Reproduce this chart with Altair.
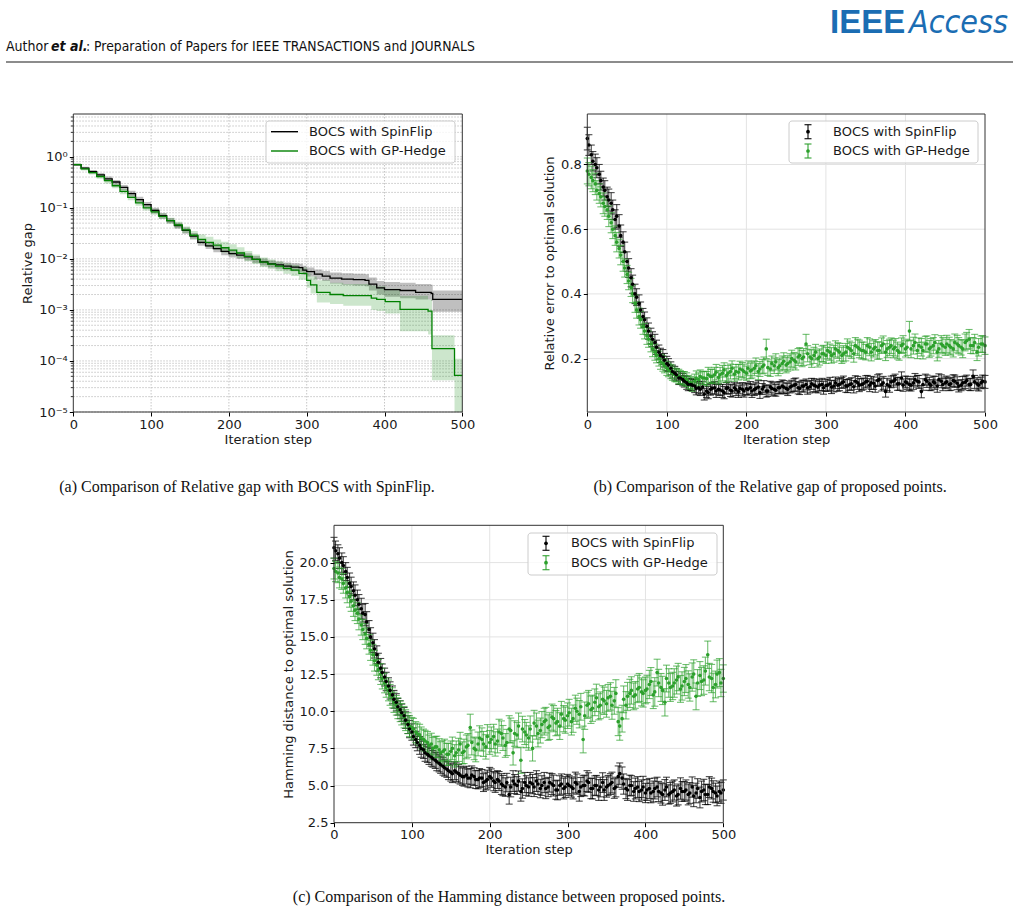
import altair as alt
import pandas as pd

# ---------------- Panel (a): relative gap, step curves with bands ----------------
a_spin_step = [0, 10, 20, 30, 40, 50, 60, 70, 80, 90, 100, 110, 120, 130, 140, 150, 160, 170, 180, 190,
               200, 210, 220, 230, 240, 250, 260, 270, 280, 290, 295, 300, 310, 320, 330, 345, 360, 375,
               380, 390, 400, 420, 440, 460, 462, 500]
a_spin_val = [0.70, 0.60, 0.51, 0.44, 0.37, 0.32, 0.25, 0.19, 0.145, 0.115,
              0.089, 0.070, 0.056, 0.045, 0.036, 0.028, 0.021, 0.018, 0.0158, 0.0140,
              0.0126, 0.0118, 0.0110, 0.0098, 0.0087, 0.0080, 0.0076, 0.0072, 0.0069, 0.0067,
              0.0060, 0.0056, 0.0050, 0.0046, 0.0042, 0.0040, 0.0039, 0.0038, 0.0032, 0.0027,
              0.0025, 0.0024, 0.0022, 0.0021, 0.0016, 0.0016]
a_spin_lo = [0.66, 0.56, 0.47, 0.40, 0.33, 0.28, 0.22, 0.165, 0.125, 0.10,
             0.077, 0.061, 0.049, 0.039, 0.031, 0.024, 0.018, 0.0155, 0.0135, 0.0118,
             0.0106, 0.0099, 0.0093, 0.0083, 0.0074, 0.0068, 0.0064, 0.0060, 0.0057, 0.0055,
             0.0049, 0.0045, 0.0040, 0.0037, 0.0033, 0.0031, 0.0030, 0.0029, 0.0024, 0.0020,
             0.0018, 0.0017, 0.0016, 0.0015, 0.00092, 0.00092]
a_spin_hi = [0.74, 0.64, 0.55, 0.48, 0.41, 0.35, 0.28, 0.215, 0.165, 0.13,
             0.10, 0.079, 0.063, 0.051, 0.041, 0.032, 0.024, 0.021, 0.0185, 0.0165,
             0.0148, 0.0138, 0.0128, 0.0114, 0.0101, 0.0093, 0.0089, 0.0085, 0.0082, 0.0080,
             0.0073, 0.0068, 0.0062, 0.0058, 0.0054, 0.0052, 0.0051, 0.0050, 0.0043, 0.0037,
             0.0035, 0.0034, 0.0032, 0.0031, 0.0024, 0.0024]

a_hedge_step = [0, 10, 20, 30, 40, 50, 60, 70, 80, 90, 100, 110, 120, 130, 140, 150, 160, 170, 180, 190,
                200, 210, 220, 230, 240, 250, 260, 270, 280, 290, 300, 305, 313, 330, 347, 383, 390, 401,
                420, 456, 461, 490, 500]
a_hedge_val = [0.70, 0.58, 0.49, 0.41, 0.34, 0.27, 0.21, 0.16, 0.125, 0.10,
               0.083, 0.068, 0.056, 0.046, 0.037, 0.029, 0.024, 0.021, 0.0185, 0.0165,
               0.0148, 0.0130, 0.0112, 0.0098, 0.0086, 0.0079, 0.0072, 0.0065, 0.0060, 0.0052,
               0.0038, 0.0031, 0.0022, 0.0020, 0.0019, 0.0017, 0.0016, 0.00145, 0.00102, 0.00095,
               0.000175, 0.000052, 0.000052]
a_hedge_lo = [0.66, 0.54, 0.45, 0.37, 0.30, 0.24, 0.185, 0.14, 0.11, 0.088,
              0.073, 0.060, 0.049, 0.040, 0.032, 0.025, 0.020, 0.017, 0.015, 0.0133,
              0.0118, 0.0104, 0.0090, 0.0079, 0.0069, 0.0063, 0.0057, 0.0051, 0.0046, 0.0039,
              0.0027, 0.0021, 0.0014, 0.0013, 0.0012, 0.0010, 0.00095, 0.00085, 0.00038, 0.00033,
              0.000042, 0.0000001, 0.0000001]
a_hedge_hi = [0.74, 0.62, 0.53, 0.45, 0.38, 0.30, 0.235, 0.18, 0.14, 0.113,
              0.094, 0.077, 0.064, 0.053, 0.043, 0.035, 0.030, 0.027, 0.024, 0.0215,
              0.0192, 0.0168, 0.0142, 0.0122, 0.0106, 0.0097, 0.0089, 0.0081, 0.0076, 0.0068,
              0.0052, 0.0045, 0.0038, 0.0034, 0.0032, 0.0030, 0.0029, 0.0026, 0.0019, 0.0016,
              0.00032, 0.00011, 0.00011]

# ---------------- Panels (b) and (c): proposed points ----------------
steps_a = list(range(0, 505, 5))   # 0, 5, ..., 500
steps_b = list(range(2, 500, 5))   # 2, 7, ..., 497

b_spin = [0.88, 0.83, 0.80, 0.77, 0.73, 0.70, 0.68, 0.63, 0.61, 0.56, 0.50,
          0.45, 0.40, 0.37, 0.33, 0.30, 0.27, 0.25, 0.22, 0.205, 0.185,
          0.17, 0.155, 0.14, 0.135, 0.125, 0.12, 0.115, 0.11, 0.112, 0.10,
          0.105, 0.11, 0.105, 0.10, 0.108, 0.102, 0.11, 0.098, 0.105, 0.107,
          0.11, 0.104, 0.112, 0.106, 0.10, 0.112, 0.105, 0.11, 0.115, 0.108,
          0.112, 0.118, 0.11, 0.115, 0.12, 0.113, 0.118, 0.112, 0.12, 0.117,
          0.122, 0.115, 0.118, 0.125, 0.116, 0.12, 0.113, 0.125, 0.12, 0.128,
          0.118, 0.124, 0.132, 0.12, 0.098, 0.115, 0.13, 0.122, 0.14, 0.128,
          0.12, 0.125, 0.13, 0.098, 0.135, 0.122, 0.128, 0.115, 0.13, 0.125,
          0.12, 0.132, 0.124, 0.118, 0.127, 0.12, 0.145, 0.122, 0.125, 0.128]
b_spin_err = [0.035, 0.03, 0.032, 0.03, 0.028, 0.03, 0.033, 0.03, 0.035, 0.032, 0.03,
              0.028, 0.03, 0.027, 0.025, 0.026, 0.024, 0.025, 0.022, 0.023, 0.022,
              0.02, 0.021, 0.02, 0.019, 0.02, 0.018, 0.02, 0.019, 0.018, 0.02,
              0.018, 0.019, 0.017, 0.02, 0.018, 0.019, 0.017, 0.018, 0.02, 0.018,
              0.019, 0.018, 0.02, 0.017, 0.019, 0.018, 0.02, 0.018, 0.019, 0.017,
              0.018, 0.02, 0.019, 0.018, 0.017, 0.019, 0.02, 0.018, 0.019, 0.018,
              0.02, 0.018, 0.019, 0.017, 0.02, 0.018, 0.019, 0.02, 0.018, 0.019,
              0.02, 0.019, 0.018, 0.02, 0.017, 0.019, 0.018, 0.02, 0.019, 0.018,
              0.019, 0.02, 0.018, 0.019, 0.017, 0.02, 0.018, 0.019, 0.02, 0.018,
              0.019, 0.018, 0.02, 0.017, 0.019, 0.018, 0.02, 0.019, 0.018, 0.02]
b_spin_mid = [0.86, 0.81, 0.79, 0.75, 0.72, 0.69, 0.66, 0.64, 0.58, 0.53,
              0.48, 0.43, 0.39, 0.35, 0.32, 0.285, 0.26, 0.235, 0.21, 0.195,
              0.18, 0.16, 0.15, 0.14, 0.13, 0.12, 0.118, 0.108, 0.105, 0.09,
              0.095, 0.108, 0.10, 0.103, 0.095, 0.11, 0.10, 0.104, 0.108, 0.10,
              0.105, 0.10, 0.108, 0.095, 0.113, 0.10, 0.108, 0.102, 0.11, 0.112,
              0.105, 0.115, 0.12, 0.108, 0.115, 0.11, 0.122, 0.115, 0.118, 0.11,
              0.118, 0.112, 0.125, 0.12, 0.128, 0.115, 0.122, 0.13, 0.118, 0.122,
              0.13, 0.125, 0.115, 0.135, 0.125, 0.12, 0.128, 0.135, 0.122, 0.118,
              0.125, 0.118, 0.135, 0.128, 0.12, 0.13, 0.118, 0.125, 0.135, 0.12,
              0.128, 0.122, 0.13, 0.115, 0.125, 0.132, 0.12, 0.128, 0.118, 0.13]
b_spin_mid_err = [0.032, 0.03, 0.031, 0.029, 0.03, 0.034, 0.03, 0.036, 0.033, 0.03,
                  0.029, 0.028, 0.026, 0.025, 0.024, 0.025, 0.023, 0.022, 0.022, 0.021,
                  0.02, 0.02, 0.019, 0.019, 0.018, 0.019, 0.018, 0.02, 0.019, 0.018,
                  0.019, 0.018, 0.02, 0.017, 0.019, 0.018, 0.019, 0.018, 0.017, 0.019,
                  0.018, 0.02, 0.019, 0.018, 0.019, 0.017, 0.02, 0.018, 0.019, 0.02,
                  0.019, 0.018, 0.02, 0.019, 0.018, 0.02, 0.017, 0.019, 0.018, 0.02,
                  0.019, 0.02, 0.018, 0.019, 0.018, 0.02, 0.019, 0.017, 0.02, 0.018,
                  0.018, 0.02, 0.019, 0.018, 0.02, 0.019, 0.018, 0.017, 0.02, 0.019,
                  0.02, 0.018, 0.019, 0.02, 0.018, 0.019, 0.017, 0.02, 0.018, 0.019,
                  0.018, 0.02, 0.019, 0.018, 0.02, 0.017, 0.019, 0.02, 0.018, 0.019]
b_hedge = [0.78, 0.76, 0.74, 0.71, 0.68, 0.66, 0.62, 0.58, 0.54, 0.50, 0.46,
           0.42, 0.37, 0.33, 0.30, 0.27, 0.245, 0.22, 0.20, 0.185, 0.17,
           0.16, 0.15, 0.145, 0.14, 0.135, 0.125, 0.13, 0.135, 0.14, 0.138,
           0.145, 0.15, 0.142, 0.155, 0.148, 0.16, 0.152, 0.158, 0.165, 0.155,
           0.162, 0.17, 0.16, 0.175, 0.23, 0.168, 0.178, 0.172, 0.185, 0.18,
           0.19, 0.195, 0.205, 0.20, 0.245, 0.205, 0.21, 0.20, 0.215, 0.21,
           0.22, 0.215, 0.225, 0.21, 0.22, 0.23, 0.215, 0.235, 0.225, 0.22,
           0.235, 0.23, 0.225, 0.24, 0.22, 0.235, 0.23, 0.225, 0.24, 0.23,
           0.285, 0.24, 0.225, 0.235, 0.245, 0.23, 0.24, 0.22, 0.245, 0.235,
           0.24, 0.23, 0.245, 0.235, 0.25, 0.26, 0.24, 0.22, 0.245, 0.24]
b_hedge_err = [0.04, 0.035, 0.033, 0.03, 0.032, 0.03, 0.031, 0.03, 0.029, 0.03, 0.028,
               0.028, 0.027, 0.026, 0.025, 0.026, 0.024, 0.025, 0.023, 0.024, 0.022,
               0.022, 0.021, 0.022, 0.02, 0.021, 0.02, 0.022, 0.021, 0.02, 0.022,
               0.022, 0.023, 0.021, 0.024, 0.022, 0.023, 0.022, 0.024, 0.023, 0.022,
               0.024, 0.023, 0.025, 0.022, 0.03, 0.023, 0.024, 0.025, 0.023, 0.024,
               0.025, 0.024, 0.026, 0.025, 0.03, 0.024, 0.025, 0.026, 0.024, 0.025,
               0.025, 0.026, 0.024, 0.025, 0.027, 0.024, 0.026, 0.025, 0.026, 0.024,
               0.026, 0.025, 0.027, 0.024, 0.026, 0.025, 0.027, 0.026, 0.024, 0.025,
               0.03, 0.026, 0.025, 0.027, 0.024, 0.026, 0.025, 0.027, 0.026, 0.025,
               0.026, 0.025, 0.027, 0.024, 0.026, 0.03, 0.025, 0.026, 0.025, 0.027]
b_hedge_mid = [0.77, 0.75, 0.72, 0.70, 0.67, 0.64, 0.60, 0.56, 0.52, 0.48,
               0.44, 0.40, 0.35, 0.32, 0.285, 0.26, 0.23, 0.21, 0.19, 0.178,
               0.165, 0.155, 0.148, 0.142, 0.138, 0.128, 0.12, 0.14, 0.145, 0.14,
               0.15, 0.145, 0.158, 0.15, 0.165, 0.155, 0.17, 0.16, 0.168, 0.16,
               0.17, 0.165, 0.178, 0.168, 0.18, 0.172, 0.185, 0.19, 0.178, 0.192,
               0.185, 0.20, 0.19, 0.21, 0.205, 0.215, 0.20, 0.22, 0.205, 0.215,
               0.225, 0.21, 0.23, 0.22, 0.215, 0.235, 0.225, 0.24, 0.23, 0.225,
               0.24, 0.22, 0.235, 0.225, 0.245, 0.23, 0.24, 0.235, 0.22, 0.245,
               0.235, 0.23, 0.25, 0.24, 0.225, 0.245, 0.235, 0.25, 0.23, 0.24,
               0.245, 0.235, 0.25, 0.24, 0.23, 0.255, 0.24, 0.25, 0.235, 0.245]
b_hedge_mid_err = [0.036, 0.034, 0.03, 0.031, 0.03, 0.032, 0.029, 0.03, 0.03, 0.028,
                   0.027, 0.027, 0.025, 0.026, 0.024, 0.025, 0.024, 0.023, 0.023, 0.022,
                   0.021, 0.022, 0.02, 0.021, 0.022, 0.02, 0.021, 0.022, 0.02, 0.021,
                   0.023, 0.022, 0.024, 0.023, 0.022, 0.024, 0.023, 0.022, 0.024, 0.023,
                   0.023, 0.025, 0.024, 0.023, 0.025, 0.024, 0.023, 0.025, 0.024, 0.026,
                   0.024, 0.026, 0.025, 0.024, 0.026, 0.025, 0.027, 0.024, 0.025, 0.026,
                   0.026, 0.024, 0.025, 0.027, 0.025, 0.026, 0.024, 0.025, 0.027, 0.026,
                   0.025, 0.027, 0.024, 0.026, 0.025, 0.026, 0.024, 0.027, 0.025, 0.026,
                   0.025, 0.027, 0.026, 0.024, 0.026, 0.025, 0.027, 0.024, 0.026, 0.025,
                   0.027, 0.024, 0.026, 0.025, 0.027, 0.026, 0.024, 0.025, 0.027, 0.026]

c_spin = [21.0, 20.6, 20.0, 19.4, 18.6, 18.1, 17.5, 16.9, 16.5, 15.5, 14.6,
          13.8, 12.9, 12.3, 11.7, 11.1, 10.6, 10.1, 9.7, 9.1, 8.6,
          8.1, 7.7, 7.4, 7.1, 6.9, 6.7, 6.5, 6.3, 6.1, 5.9,
          6.0, 5.8, 5.6, 5.7, 5.5, 5.6, 5.4, 5.5, 5.3, 5.6,
          5.3, 5.4, 5.1, 4.9, 4.4, 5.3, 5.0, 4.6, 5.2, 4.9,
          5.1, 5.3, 4.8, 5.2, 4.9, 5.1, 4.7, 5.0, 4.8, 5.1,
          4.9, 5.2, 4.6, 5.0, 5.3, 4.8, 5.0, 4.7, 5.2, 4.9,
          5.1, 4.8, 5.6, 5.5, 4.8, 5.0, 4.6, 4.9, 4.7, 4.5,
          4.8, 4.6, 4.9, 4.5, 4.7, 4.4, 4.6, 4.3, 4.8, 4.6,
          4.4, 4.9, 4.5, 4.2, 4.7, 4.4, 4.8, 4.5, 4.6, 4.7]
c_spin_err = [0.7, 0.6, 0.65, 0.6, 0.7, 0.6, 0.65, 0.7, 0.75, 0.6, 0.65,
              0.6, 0.65, 0.6, 0.55, 0.6, 0.58, 0.6, 0.55, 0.6, 0.55,
              0.55, 0.6, 0.58, 0.55, 0.6, 0.55, 0.58, 0.6, 0.55, 0.6,
              0.6, 0.62, 0.58, 0.6, 0.65, 0.6, 0.62, 0.58, 0.6, 0.62,
              0.65, 0.6, 0.7, 0.62, 0.65, 0.7, 0.6, 0.65, 0.68, 0.62,
              0.65, 0.7, 0.62, 0.68, 0.65, 0.7, 0.62, 0.66, 0.7, 0.65,
              0.68, 0.7, 0.65, 0.66, 0.7, 0.68, 0.65, 0.7, 0.66, 0.68,
              0.7, 0.66, 0.72, 0.75, 0.68, 0.7, 0.66, 0.7, 0.68, 0.65,
              0.68, 0.7, 0.66, 0.68, 0.7, 0.65, 0.7, 0.68, 0.72, 0.66,
              0.7, 0.68, 0.66, 0.7, 0.72, 0.68, 0.7, 0.66, 0.7, 0.68]
c_spin_mid = [20.8, 20.3, 19.8, 19.0, 18.4, 17.8, 17.2, 16.6, 16.0, 15.0,
              14.2, 13.3, 12.6, 12.0, 11.4, 10.8, 10.3, 9.9, 9.4, 8.8,
              8.3, 7.9, 7.5, 7.2, 7.0, 6.8, 6.6, 6.4, 6.2, 6.0,
              5.8, 5.9, 5.7, 5.6, 5.5, 5.7, 5.4, 5.5, 5.2, 5.4,
              5.5, 5.2, 5.3, 5.0, 5.2, 4.9, 5.1, 5.3, 4.8, 5.0,
              5.2, 4.9, 5.1, 5.0, 4.8, 5.2, 5.0, 4.7, 5.1, 4.9,
              5.0, 4.8, 5.1, 4.9, 5.0, 5.2, 4.8, 5.0, 4.9, 4.7,
              5.0, 5.2, 4.9, 5.8, 5.1, 4.7, 5.0, 4.8, 4.6, 4.9,
              4.7, 4.5, 4.8, 4.6, 4.4, 4.9, 4.5, 4.7, 4.4, 4.6,
              4.7, 4.5, 4.3, 4.8, 4.6, 4.4, 4.9, 4.6, 4.3, 4.5]
c_spin_mid_err = [0.65, 0.7, 0.6, 0.68, 0.62, 0.7, 0.65, 0.6, 0.7, 0.62,
                  0.62, 0.6, 0.58, 0.62, 0.58, 0.6, 0.56, 0.58, 0.56, 0.58,
                  0.58, 0.56, 0.6, 0.57, 0.58, 0.56, 0.6, 0.58, 0.57, 0.6,
                  0.6, 0.62, 0.6, 0.64, 0.6, 0.62, 0.6, 0.64, 0.6, 0.63,
                  0.62, 0.66, 0.64, 0.68, 0.62, 0.66, 0.64, 0.68, 0.65, 0.66,
                  0.68, 0.64, 0.7, 0.66, 0.68, 0.64, 0.7, 0.66, 0.68, 0.7,
                  0.66, 0.7, 0.68, 0.64, 0.7, 0.66, 0.7, 0.68, 0.66, 0.7,
                  0.68, 0.7, 0.66, 0.72, 0.68, 0.7, 0.66, 0.7, 0.68, 0.72,
                  0.7, 0.66, 0.7, 0.68, 0.72, 0.66, 0.7, 0.68, 0.7, 0.66,
                  0.68, 0.7, 0.72, 0.66, 0.7, 0.68, 0.7, 0.72, 0.66, 0.7]
c_hedge = [19.6, 19.3, 18.9, 18.3, 17.7, 17.1, 16.6, 15.8, 15.2, 14.5, 13.8,
           13.1, 12.5, 11.9, 11.4, 10.9, 10.4, 10.0, 9.6, 9.2, 8.9,
           8.6, 8.4, 8.1, 7.9, 7.8, 7.6, 7.4, 7.3, 7.1, 7.3,
           7.0, 7.4, 7.2, 7.6, 8.9, 7.5, 7.8, 8.1, 7.6, 7.9,
           8.3, 8.0, 8.5, 7.7, 8.8, 7.2, 8.4, 6.7, 8.6, 8.2,
           7.5, 9.0, 8.7, 9.3, 8.9, 9.6, 9.2, 9.0, 9.5, 9.7,
           9.3, 10.2, 9.8, 8.1, 10.4, 10.1, 10.6, 10.3, 10.8, 10.5,
           11.0, 10.7, 9.3, 9.5, 10.4, 11.2, 11.0, 11.5, 11.3, 11.4,
           11.8, 11.1, 12.6, 11.6, 10.6, 11.9, 11.7, 12.1, 11.5, 12.0,
           11.8, 12.3, 11.0, 12.4, 12.1, 13.8, 12.2, 11.8, 12.6, 12.2]
c_hedge_err = [0.7, 0.65, 0.7, 0.68, 0.7, 0.72, 0.7, 0.68, 0.7, 0.66, 0.7,
               0.68, 0.7, 0.66, 0.7, 0.68, 0.66, 0.7, 0.72, 0.7, 0.68,
               0.7, 0.72, 0.7, 0.74, 0.72, 0.7, 0.75, 0.72, 0.74, 0.7,
               0.75, 0.78, 0.74, 0.8, 0.9, 0.76, 0.8, 0.78, 0.82, 0.8,
               0.82, 0.8, 0.85, 0.8, 0.9, 0.82, 0.85, 0.88, 0.84, 0.82,
               0.85, 0.88, 0.84, 0.9, 0.86, 0.88, 0.85, 0.9, 0.88, 0.86,
               0.9, 0.88, 0.92, 0.9, 0.88, 0.92, 0.9, 0.88, 0.92, 0.9,
               0.92, 0.9, 0.94, 0.9, 0.92, 0.95, 0.9, 0.92, 0.94, 0.9,
               0.95, 0.92, 0.9, 0.94, 0.92, 0.96, 0.92, 0.94, 0.9, 0.95,
               0.92, 0.95, 0.9, 0.94, 0.96, 0.92, 0.95, 0.9, 0.94, 0.92]
c_hedge_mid = [19.4, 19.0, 18.6, 18.0, 17.4, 16.8, 16.2, 15.5, 14.9, 14.1,
               13.4, 12.8, 12.2, 11.6, 11.1, 10.6, 10.2, 9.8, 9.4, 9.0,
               8.8, 8.5, 8.2, 8.0, 7.7, 7.5, 7.6, 7.2, 7.4, 7.1,
               7.5, 7.2, 7.8, 7.3, 7.7, 7.9, 7.4, 8.2, 7.8, 8.3,
               8.1, 7.8, 8.6, 8.2, 7.9, 8.7, 8.5, 9.0, 8.8, 8.4,
               8.8, 9.2, 8.5, 9.1, 9.4, 9.0, 9.5, 9.3, 9.8, 9.4,
               9.9, 9.5, 10.0, 10.3, 9.7, 10.5, 10.2, 10.9, 10.4, 10.7,
               10.9, 10.4, 11.2, 9.0, 10.8, 11.0, 11.4, 11.1, 11.6, 11.2,
               11.5, 12.0, 11.3, 11.9, 11.4, 12.2, 11.6, 11.9, 12.3, 11.7,
               12.2, 11.6, 12.5, 11.9, 12.0, 12.7, 12.3, 11.6, 12.5, 11.9]
c_hedge_mid_err = [0.68, 0.7, 0.66, 0.7, 0.68, 0.7, 0.72, 0.68, 0.7, 0.68,
                   0.7, 0.68, 0.7, 0.66, 0.7, 0.68, 0.7, 0.72, 0.7, 0.7,
                   0.72, 0.7, 0.74, 0.72, 0.7, 0.74, 0.72, 0.75, 0.72, 0.74,
                   0.76, 0.8, 0.78, 0.82, 0.8, 0.84, 0.8, 0.82, 0.84, 0.8,
                   0.84, 0.82, 0.86, 0.84, 0.88, 0.84, 0.86, 0.88, 0.86, 0.85,
                   0.88, 0.86, 0.9, 0.88, 0.86, 0.9, 0.88, 0.9, 0.86, 0.88,
                   0.9, 0.92, 0.88, 0.9, 0.92, 0.9, 0.88, 0.92, 0.9, 0.92,
                   0.9, 0.94, 0.92, 0.95, 0.9, 0.94, 0.92, 0.9, 0.94, 0.92,
                   0.92, 0.94, 0.96, 0.92, 0.95, 0.9, 0.94, 0.96, 0.92, 0.95,
                   0.94, 0.92, 0.96, 0.9, 0.95, 0.94, 0.92, 0.96, 0.94, 0.92]

series_names = ["BOCS with SpinFlip", "BOCS with GP-Hedge"]
x_ticks = [0, 100, 200, 300, 400, 500]
a_ticks = [1e-5, 1e-4, 1e-3, 1e-2, 1e-1, 1]
b_ticks = [0.2, 0.4, 0.6, 0.8]
c_ticks = [2.5, 5.0, 7.5, 10.0, 12.5, 15.0, 17.5, 20.0]

for lst in (b_spin, b_spin_err, b_hedge, b_hedge_err, c_spin, c_spin_err, c_hedge, c_hedge_err):
    assert len(lst) == len(steps_a), len(lst)
for lst in (b_spin_mid, b_spin_mid_err, b_hedge_mid, b_hedge_mid_err,
            c_spin_mid, c_spin_mid_err, c_hedge_mid, c_hedge_mid_err):
    assert len(lst) == len(steps_b), len(lst)

# ---------------- layout / style ----------------
PW, PH = 1019, 919
SANS = "DejaVu Sans"
TXT = "#1a1a1a"
BLACK = "#000000"
GREEN_LINE = "#008000"
GREEN_PT = "#2ca02c"
AX = dict(x0=73.3, x1=462.3, y0=114, y1=412)
BX = dict(x0=587.3, x1=985, y0=114, y1=412)
CX = dict(x0=334, x1=723.3, y0=525.3, y1=822.7)

one = pd.DataFrame({"k": [0]})


def axis_x(P, **kw):
    return alt.Axis(orient="bottom", offset=P["y1"] - PH, values=x_ticks, title="Iteration step",
                    grid=False, domain=False, tickSize=4, tickColor=BLACK, tickWidth=1,
                    labelFont=SANS, labelFontSize=13, labelColor=TXT, labelPadding=2,
                    labelFlush=False, labelOverlap=False, labelBound=False,
                    titleFont=SANS, titleFontSize=13, titleFontWeight="normal", titleColor=TXT,
                    titlePadding=2, format="d", zindex=2, **kw)


def axis_y(P, title, values, **kw):
    return alt.Axis(orient="left", offset=-P["x0"], values=values, title=title,
                    grid=False, domain=False, tickSize=4, tickColor=BLACK, tickWidth=1,
                    labelFont=SANS, labelFontSize=13, labelColor=TXT, labelPadding=2,
                    labelFlush=False, labelOverlap=False, labelBound=False,
                    titleFont=SANS, titleFontSize=13, titleFontWeight="normal", titleColor=TXT,
                    titlePadding=4, zindex=2, **kw)


def frame(P):
    return alt.Chart(one).mark_rect(fill=None, stroke="#333333", strokeWidth=1).encode(
        x=alt.value(P["x0"]), x2=alt.value(P["x1"]), y=alt.value(P["y0"]), y2=alt.value(P["y1"]))


def text(s, x, y, size=13, align="left", baseline="middle", font=SANS, color=TXT, **kw):
    return alt.Chart(one).mark_text(text=s, fontSize=size, align=align, baseline=baseline,
                                    font=font, color=color, **kw).encode(x=alt.value(x), y=alt.value(y))


def hrule(x0, x1, y, color, width=1.0, **kw):
    return alt.Chart(one).mark_rule(color=color, strokeWidth=width, **kw).encode(
        x=alt.value(x0), x2=alt.value(x1), y=alt.value(y))


def vrule(x, y0, y1, color, width=1.0, **kw):
    return alt.Chart(one).mark_rule(color=color, strokeWidth=width, **kw).encode(
        x=alt.value(x), y=alt.value(y0), y2=alt.value(y1))


def legend_box(x0, x1, y0, y1):
    return alt.Chart(one).mark_rect(fill="white", fillOpacity=0.8, stroke="#cccccc", strokeWidth=1,
                                    cornerRadius=3).encode(
        x=alt.value(x0), x2=alt.value(x1), y=alt.value(y0), y2=alt.value(y1))


def errsym(x, y, color, op):
    return [vrule(x, y - 7, y + 7, color, 1.2, opacity=op),
            hrule(x - 3.5, x + 3.5, y - 7, color, 1.2, opacity=op),
            hrule(x - 3.5, x + 3.5, y + 7, color, 1.2, opacity=op),
            alt.Chart(one).mark_circle(color=color, size=14, opacity=1).encode(
                x=alt.value(x), y=alt.value(y))]


# ---------------- Panel (a) ----------------
xa = alt.Scale(domain=[0, 500], range=[AX["x0"], AX["x1"]], nice=False, zero=False)
ya = alt.Scale(type="log", domain=[1e-5, 6.87], range=[AX["y1"], AX["y0"]], nice=False, clamp=True)
ax_xa = axis_x(AX)
log_expr = ("datum.value >= 0.5 ? '10⁰' : datum.value >= 0.05 ? '10⁻¹' : datum.value >= 0.005 ? '10⁻²'"
            " : datum.value >= 0.0005 ? '10⁻³' : datum.value >= 0.00005 ? '10⁻⁴' : '10⁻⁵'")
ax_ya = axis_y(AX, "Relative gap", a_ticks, labelExpr=log_expr)

minor_vals = [m * 10.0 ** k for k in range(-5, 1) for m in range(1, 10) if m * 10.0 ** k <= 6.87]
minor_only = [v for v in minor_vals if all(abs(v - t) > 1e-12 for t in a_ticks)]
grid_y_a = pd.DataFrame({"g": minor_vals})
minor_a = pd.DataFrame({"g": minor_only})
grid_x_a = pd.DataFrame({"s": [100, 200, 300, 400]})

df_a_spin = pd.DataFrame({"s": a_spin_step, "v": a_spin_val, "lo": a_spin_lo, "hi": a_spin_hi})
df_a_hedge = pd.DataFrame({"s": a_hedge_step, "v": a_hedge_val, "lo": a_hedge_lo, "hi": a_hedge_hi})

XA = alt.X("s:Q", scale=xa, axis=ax_xa)
grid_style = dict(color="#b8b8b8", strokeWidth=0.8, strokeDash=[1.5, 1.5])

panel_a = alt.layer(
    alt.Chart(grid_y_a).mark_rule(**grid_style).encode(
        y=alt.Y("g:Q", scale=ya, axis=ax_ya), x=alt.value(AX["x0"]), x2=alt.value(AX["x1"])),
    alt.Chart(grid_x_a).mark_rule(**grid_style).encode(
        x=XA, y=alt.value(AX["y0"]), y2=alt.value(AX["y1"])),
    alt.Chart(minor_a).mark_rule(color=BLACK, strokeWidth=0.8).encode(
        y=alt.Y("g:Q", scale=ya, axis=ax_ya), x=alt.value(AX["x0"] - 2.5), x2=alt.value(AX["x0"])),
    alt.Chart(df_a_spin).mark_area(interpolate="step-after", color=BLACK, opacity=0.25).encode(
        x=XA, y=alt.Y("lo:Q", scale=ya, axis=ax_ya), y2="hi:Q"),
    alt.Chart(df_a_hedge).mark_area(interpolate="step-after", color=GREEN_LINE, opacity=0.2).encode(
        x=XA, y=alt.Y("lo:Q", scale=ya, axis=ax_ya), y2="hi:Q"),
    alt.Chart(df_a_spin).mark_line(interpolate="step-after", color=BLACK, strokeWidth=1.3).encode(
        x=XA, y=alt.Y("v:Q", scale=ya, axis=ax_ya)),
    alt.Chart(df_a_hedge).mark_line(interpolate="step-after", color=GREEN_LINE, strokeWidth=1.3).encode(
        x=XA, y=alt.Y("v:Q", scale=ya, axis=ax_ya)),
    frame(AX),
    legend_box(266, 455, 121, 163),
    hrule(271, 298, 131.7, BLACK, 1.4),
    hrule(271, 298, 151, GREEN_LINE, 1.4),
    text(series_names[0], 309, 131.7),
    text(series_names[1], 309, 151),
)


# ---------------- Panels (b), (c): error-bar scatter ----------------
def errbar_panel(P, spin, hedge, ydom, yticks, ytitle, fmt, leg):
    xs = alt.Scale(domain=[0, 500], range=[P["x0"], P["x1"]], nice=False, zero=False)
    ys = alt.Scale(domain=ydom, range=[P["y1"], P["y0"]], nice=False, zero=False)
    axx = axis_x(P)
    axy = axis_y(P, ytitle, yticks, format=fmt)
    X = alt.X("s:Q", scale=xs, axis=axx)
    gx = pd.DataFrame({"s": [100, 200, 300, 400]})
    gy = pd.DataFrame({"g": yticks})
    gstyle = dict(color="#e3e3e3", strokeWidth=1)
    layers = [
        alt.Chart(gy).mark_rule(**gstyle).encode(
            y=alt.Y("g:Q", scale=ys, axis=axy), x=alt.value(P["x0"]), x2=alt.value(P["x1"])),
        alt.Chart(gx).mark_rule(**gstyle).encode(x=X, y=alt.value(P["y0"]), y2=alt.value(P["y1"])),
    ]
    dfs = pd.concat([pd.DataFrame({"s": steps_a, "v": spin[0], "e": spin[1]}),
                     pd.DataFrame({"s": steps_b, "v": spin[2], "e": spin[3]})]).sort_values("s")
    dfh = pd.concat([pd.DataFrame({"s": steps_a, "v": hedge[0], "e": hedge[1]}),
                     pd.DataFrame({"s": steps_b, "v": hedge[2], "e": hedge[3]})]).sort_values("s")

    def bars(df, color, op):
        base = alt.Chart(df).transform_calculate(lo="datum.v - datum.e", hi="datum.v + datum.e")
        return [
            base.mark_rule(color=color, opacity=op, strokeWidth=1.1).encode(
                x=X, y=alt.Y("lo:Q", scale=ys, axis=axy), y2="hi:Q"),
            base.mark_tick(color=color, opacity=op, orient="horizontal", size=7, thickness=1.1).encode(
                x=X, y=alt.Y("lo:Q", scale=ys, axis=axy)),
            base.mark_tick(color=color, opacity=op, orient="horizontal", size=7, thickness=1.1).encode(
                x=X, y=alt.Y("hi:Q", scale=ys, axis=axy)),
        ]

    layers += bars(dfs, BLACK, 0.72)
    layers += bars(dfh, GREEN_PT, 0.68)
    layers.append(alt.Chart(dfh).mark_circle(color=GREEN_PT, size=13, opacity=1).encode(
        x=X, y=alt.Y("v:Q", scale=ys, axis=axy)))
    layers.append(alt.Chart(dfs).mark_circle(color=BLACK, size=13, opacity=1).encode(
        x=X, y=alt.Y("v:Q", scale=ys, axis=axy)))
    layers.append(frame(P))
    lx0, lx1, ly0, ly1, sx, tx, r1, r2 = leg
    layers.append(legend_box(lx0, lx1, ly0, ly1))
    layers += errsym(sx, r1, BLACK, 0.9)
    layers += errsym(sx, r2, GREEN_PT, 0.9)
    layers.append(text(series_names[0], tx, r1))
    layers.append(text(series_names[1], tx, r2))
    return alt.layer(*layers)


panel_b = errbar_panel(BX, (b_spin, b_spin_err, b_spin_mid, b_spin_mid_err),
                       (b_hedge, b_hedge_err, b_hedge_mid, b_hedge_mid_err),
                       [0.035, 0.956], b_ticks, "Relative error to optimal solution", ".1f",
                       (789, 978, 121, 163, 808, 833, 131.7, 151))
panel_c = errbar_panel(CX, (c_spin, c_spin_err, c_spin_mid, c_spin_mid_err),
                       (c_hedge, c_hedge_err, c_hedge_mid, c_hedge_mid_err),
                       [2.5, 22.51], c_ticks, "Hamming distance to optimal solution", ".1f",
                       (528, 717, 533, 575, 546, 571, 543.3, 562.7))

# ---------------- page decoration: header, logo, captions ----------------
HEAD = "Liberation Sans Narrow, DejaVu Sans Condensed, Liberation Sans, sans-serif"
SERIF = "Liberation Serif, DejaVu Serif, serif"
decor = alt.layer(
    text("Author", 6, 51, size=14, baseline="alphabetic", font=HEAD, color="#111"),
    text("et al.", 51, 51, size=14, baseline="alphabetic", font=HEAD, color="#111",
         fontWeight="bold", fontStyle="italic"),
    text(": Preparation of Papers for IEEE TRANSACTIONS and JOURNALS", 86, 51, size=13.8,
         baseline="alphabetic", font=HEAD, color="#111"),
    hrule(6, 1013, 62, "#666666", 1.5),
    text("IEEE", 830, 33, size=33, baseline="alphabetic", font="Liberation Sans", color="#1b6db3",
         fontWeight="bold"),
    text("Access", 909, 33, size=32, baseline="alphabetic", font=HEAD, color="#1b6db3",
         fontStyle="italic"),
    text("(a) Comparison of Relative gap with BOCS with SpinFlip.", 247, 487, size=16,
         align="center", font=SERIF, color="#111"),
    text("(b) Comparison of the Relative gap of proposed points.", 770, 487, size=16,
         align="center", font=SERIF, color="#111"),
    text("(c) Comparison of the Hamming distance between proposed points.", 509, 897, size=16,
         align="center", font=SERIF, color="#111"),
)

chart = alt.layer(decor, panel_a, panel_b, panel_c).resolve_scale(
    x="independent", y="independent"
).properties(
    width=PW, height=PH, padding=0, autosize=alt.AutoSizeParams(type="none"), background="white"
).configure_view(stroke=None)

chart.save("out.html", embed_options={"renderer": "svg", "actions": False})
